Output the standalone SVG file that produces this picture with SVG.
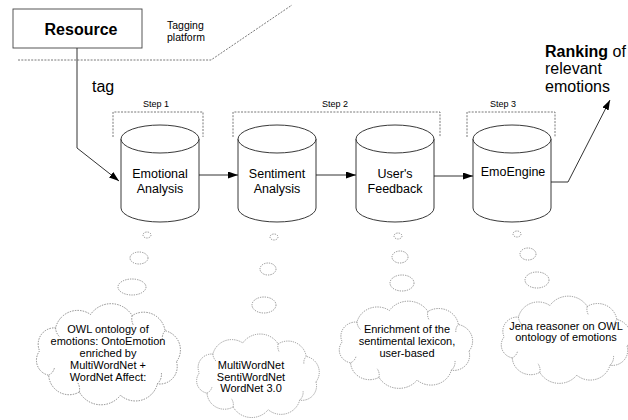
<svg xmlns="http://www.w3.org/2000/svg" xmlns:xlink="http://www.w3.org/1999/xlink" width="628" height="420" viewBox="0 0 628 420">
<style>
text{font-family:"Liberation Sans",Arial,sans-serif;fill:#000}
.cyl{fill:#fff;stroke:#222;stroke-width:0.9}
.conn{fill:none;stroke:#333;stroke-width:1}
.dash{fill:none;stroke:#555;stroke-width:0.8;stroke-dasharray:2 1.3}
.bub{fill:#fff;stroke:#777;stroke-width:0.8;stroke-dasharray:1.3 1.1}
.lbl{font-size:12.5px;text-anchor:middle}
.cl{font-size:11px;text-anchor:middle}
.step{font-size:9px;text-anchor:middle}
</style>
<defs>
<marker id="ah" markerUnits="userSpaceOnUse" markerWidth="11" markerHeight="8" refX="10" refY="3.5" orient="auto">
<path d="M0,0 L10,3.5 L0,7 z" fill="#000"/>
</marker>
<g id="cloud">
<path fill="#fff" stroke="#777" stroke-width="0.8" stroke-dasharray="1.3 1.1" d="M63,6.6 A16,16 0 0 1 45.3,26.9 A21,21 0 0 1 11.1,37.4 A23,23 0 0 1 -27,34.4 A19,19 0 0 1 -55.4,19 A14,14 0 0 1 -63.8,-3.3 A15,15 0 0 1 -49,-24.4 A21,21 0 0 1 -16.6,-36.7 A23,23 0 0 1 21.9,-35.7 A20,20 0 0 1 52.4,-21.8 A18,18 0 0 1 63,6.6 Z"/>
<path fill="none" stroke="#777" stroke-width="0.8" stroke-dasharray="1.3 1.1" d="M45.3,26.9 A12,12 0 0 0 49,17 M-27,34.4 A12,12 0 0 0 -29,25 M-55.4,19 A10,10 0 0 0 -50,12 M-49,-24.4 A12,12 0 0 0 -45,-16 M21.9,-35.7 A12,12 0 0 0 23,-27 M52.4,-21.8 A10,10 0 0 0 50,-13"/>
</g>
</defs>

<g id="platform">
<path class="dash" d="M18,60 H211 L292,5"/>
<text x="167" y="29" font-size="10.5">Tagging</text>
<text x="167" y="41" font-size="10.5">platform</text>
</g>

<g id="resource">
<rect x="13" y="9" width="129" height="39" fill="#fff" stroke="#444" stroke-width="0.9"/>
<text x="81" y="35" font-size="16" font-weight="bold" text-anchor="middle">Resource</text>
</g>

<g id="steps">
<path class="dash" d="M113,137 V112 H203 V137"/>
<text class="step" x="156" y="107">Step 1</text>
<path class="dash" d="M233,137 V112 H440 V137"/>
<text class="step" x="335" y="107">Step 2</text>
<path class="dash" d="M467,137 V112 H555 V137"/>
<text class="step" x="503" y="107">Step 3</text>
</g>

<g id="connectors">
<path class="conn" d="M77,48 V148 L119,181" marker-end="url(#ah)"/>
<path class="conn" d="M199,175 H238" marker-end="url(#ah)"/>
<path class="conn" d="M316,175 H356" marker-end="url(#ah)"/>
<path class="conn" d="M434,176 H473" marker-end="url(#ah)"/>
<path class="conn" d="M551,182 H568 L610,100" marker-end="url(#ah)"/>
<text x="92" y="92" font-size="16">tag</text>
</g>

<g id="emotional">
<path class="cyl" d="M121,139 V208 A39,14 0 0 0 199,208 V139"/>
<ellipse class="cyl" cx="160" cy="139" rx="39" ry="14"/>
<text class="lbl" x="160" y="178">Emotional</text>
<text class="lbl" x="160" y="192.5">Analysis</text>
</g>

<g id="sentiment">
<path class="cyl" d="M238,139 V208 A39,14 0 0 0 316,208 V139"/>
<ellipse class="cyl" cx="277" cy="139" rx="39" ry="14"/>
<text class="lbl" x="277" y="178">Sentiment</text>
<text class="lbl" x="277" y="192.5">Analysis</text>
</g>

<g id="feedback">
<path class="cyl" d="M356,139 V208 A39,14 0 0 0 434,208 V139"/>
<ellipse class="cyl" cx="395" cy="139" rx="39" ry="14"/>
<text class="lbl" x="395" y="178">User's</text>
<text class="lbl" x="395" y="192.5">Feedback</text>
</g>

<g id="emoengine">
<path class="cyl" d="M473,139 V208 A39,14 0 0 0 551,208 V139"/>
<ellipse class="cyl" cx="512" cy="139" rx="39" ry="14"/>
<text class="lbl" x="513" y="176">EmoEngine</text>
</g>

<g id="ranking">
<text x="545" y="56.5" font-size="16"><tspan font-weight="bold">Ranking</tspan> of</text>
<text x="545" y="74" font-size="16">relevant</text>
<text x="545" y="91.5" font-size="16">emotions</text>
</g>

<g id="cloud-owl">
<ellipse class="bub" cx="147" cy="235" rx="4" ry="3"/>
<ellipse class="bub" cx="139" cy="258" rx="9" ry="6"/>
<ellipse class="bub" cx="132" cy="287" rx="14" ry="8"/>
<use xlink:href="#cloud" transform="translate(108.5,354.5) scale(1.08,1.09)"/>
<text class="cl" x="108" y="332.5">OWL ontology of</text>
<text class="cl" x="108" y="344.5">emotions: OntoEmotion</text>
<text class="cl" x="108" y="356.5">enriched by</text>
<text class="cl" x="108" y="368.5">MultiWordNet +</text>
<text class="cl" x="108" y="380.5">WordNet Affect:</text>
</g>

<g id="cloud-multiwordnet">
<ellipse class="bub" cx="274" cy="237" rx="4" ry="3"/>
<ellipse class="bub" cx="268" cy="269" rx="8" ry="6"/>
<ellipse class="bub" cx="264" cy="305" rx="12" ry="8"/>
<use xlink:href="#cloud" transform="translate(258,376) scale(0.92,0.9)"/>
<text class="cl" x="251" y="369">MultiWordNet</text>
<text class="cl" x="251" y="380.5">SentiWordNet</text>
<text class="cl" x="251" y="392">WordNet 3.0</text>
</g>

<g id="cloud-enrichment">
<ellipse class="bub" cx="398" cy="236" rx="4" ry="3"/>
<ellipse class="bub" cx="400" cy="257" rx="8" ry="6"/>
<ellipse class="bub" cx="402" cy="283" rx="12" ry="8"/>
<use xlink:href="#cloud" transform="translate(406,345) scale(1,0.94)"/>
<text class="cl" x="407" y="333">Enrichment of the</text>
<text class="cl" x="407" y="345">sentimental lexicon,</text>
<text class="cl" x="407" y="357">user-based</text>
</g>

<g id="cloud-jena">
<ellipse class="bub" cx="517" cy="234" rx="4" ry="3"/>
<ellipse class="bub" cx="528" cy="254" rx="8" ry="6"/>
<ellipse class="bub" cx="537" cy="280" rx="12" ry="8"/>
<use xlink:href="#cloud" transform="translate(566,340) scale(0.97,0.94)"/>
<text class="cl" x="566" y="329.5">Jena reasoner on OWL</text>
<text class="cl" x="566" y="341">ontology of emotions</text>
</g>
</svg>
